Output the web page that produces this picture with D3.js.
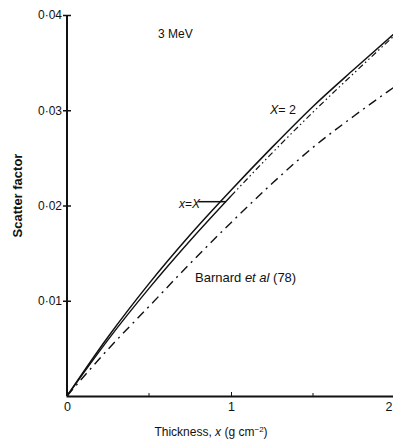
<!DOCTYPE html>
<html>
<head>
<meta charset="utf-8">
<script src="https://cdn.jsdelivr.net/npm/d3@7"></script>
<style>
  body { margin: 0; background: #fff; }
  .chart text { font-family: "Liberation Sans", Arial, sans-serif; fill: #111; }
  .axis path, .axis line { stroke: #111; }
</style>
</head>
<body>
<div class="chart"></div>
<script>
// data
var thickness = [0, 0.25, 0.5, 0.75, 1, 1.25, 1.5, 1.75, 2];
var bigX2     = [0, 0.0062, 0.0118, 0.0169, 0.0216, 0.0261, 0.0304, 0.0343, 0.0381];
var xEqX      = [0, 0.0059, 0.0113, 0.0163, 0.0210, 0.0255, 0.0298, 0.0339, 0.0379];
var barnard   = [0, 0.0049, 0.0094, 0.0139, 0.0182, 0.0223, 0.0261, 0.0294, 0.0325];
var xTicks = [0, 1, 2];
var xMinor = [0.5, 1.5];
var yTicks = [0.01, 0.02, 0.03, 0.04];
var yTickText = ["0·01", "0·02", "0·03", "0·04"];

var margin = {top: 15, right: 0, bottom: 51, left: 67},
    width = 393 - margin.left - margin.right + 2,
    height = 447 - margin.top - margin.bottom;

var svg = d3.select(".chart").append("svg")
    .attr("width", 393)
    .attr("height", 447)
  .append("g")
    .attr("transform", "translate(" + margin.left + "," + margin.top + ")");

var x = d3.scaleLinear().domain([0, 2]).range([0, width]);
var y = d3.scaleLinear().domain([0, 0.04]).range([height, 0]);

// axes
var xAxis = d3.axisBottom(x).tickValues(xTicks).tickSize(-4).tickPadding(8)
    .tickFormat(d3.format("d"));
var gx = svg.append("g").attr("class", "x axis")
    .attr("transform", "translate(0," + height + ")")
    .call(xAxis);
gx.select(".domain").attr("stroke-width", 2);
gx.selectAll("text").style("font-size", "12.5px").attr("dy", "0.55em");
// the last label sits right at the edge
gx.selectAll(".tick").filter(function(d){ return d === 2; }).select("text")
    .attr("text-anchor", "end").attr("x", -3);

gx.selectAll(".minor").data(xMinor).enter().append("line")
    .attr("x1", function(d){ return x(d); }).attr("x2", function(d){ return x(d); })
    .attr("y1", 0).attr("y2", -3).attr("stroke", "#111");

var yAxis = d3.axisLeft(y).tickValues(yTicks).tickSize(4).tickPadding(2)
    .tickFormat(function(d, i){ return yTickText[i]; });
var gy = svg.append("g").attr("class", "y axis").call(yAxis);
gy.select(".domain").attr("stroke-width", 2).attr("d", "M0," + height + "V0");
gy.selectAll(".tick line").attr("x2", 4).attr("x1", -4).attr("stroke-width", 1.5);
gy.selectAll("text").style("font-size", "12px").attr("x", -5);

// curves
var line = d3.line()
    .x(function(d){ return x(d[0]); })
    .y(function(d){ return y(d[1]); })
    .curve(d3.curveMonotoneX);

function pts(vals) { return thickness.map(function(t, i){ return [t, vals[i]]; }); }

svg.append("path").datum(pts(barnard)).attr("d", line)
    .attr("fill", "none").attr("stroke", "#111").attr("stroke-width", 1.4)
    .attr("stroke-dasharray", "9,5,2,5");

var xEqPts = pts(xEqX);
svg.append("path").datum(xEqPts.filter(function(d){ return d[0] <= 1; })).attr("d", line)
    .attr("fill", "none").attr("stroke", "#111").attr("stroke-width", 1.4);
svg.append("path").datum(xEqPts.filter(function(d){ return d[0] >= 1; })).attr("d", line)
    .attr("fill", "none").attr("stroke", "#111").attr("stroke-width", 1.2)
    .attr("stroke-dasharray", "6,3,1.5,3,1.5,3");

svg.append("path").datum(pts(bigX2)).attr("d", line)
    .attr("fill", "none").attr("stroke", "#111").attr("stroke-width", 1.5);

// labels
svg.append("text").attr("x", 91).attr("y", 23).style("font-size", "12px").text("3 MeV");

svg.append("text").attr("x", 203).attr("y", 99).style("font-size", "12.5px")
    .html('<tspan font-style="italic">X</tspan>= 2');

svg.append("text").attr("x", 112).attr("y", 193).style("font-size", "12px")
    .html('<tspan font-style="italic">x</tspan>=<tspan font-style="italic">X</tspan>');
svg.append("line").attr("x1", x(0.8)).attr("x2", x(0.97))
    .attr("y1", y(0.0204)).attr("y2", y(0.0204))
    .attr("stroke", "#111").attr("stroke-width", 1.5);

svg.append("text").attr("x", 128).attr("y", 267).style("font-size", "13px")
    .html('Barnard <tspan font-style="italic">et al</tspan> (78)');

// axis titles
svg.append("text").attr("x", width / 2 - 20).attr("y", height + 40)
    .style("text-anchor", "middle").style("font-size", "12px")
    .html('Thickness, <tspan font-style="italic">x</tspan> (g cm<tspan dy="-4" font-size="8px">−2</tspan><tspan dy="4">)</tspan>');

svg.append("text").attr("transform", "rotate(-90)")
    .attr("x", -(height / 2) + 10).attr("y", -45)
    .style("text-anchor", "middle").style("font-size", "13px").style("font-weight", "bold")
    .text("Scatter factor");
</script>
</body>
</html>
